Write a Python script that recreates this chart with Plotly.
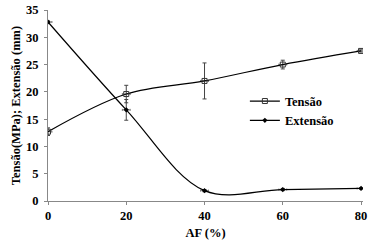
import plotly.graph_objects as go

af = [0, 20, 40, 60, 80]
tensao = [12.7, 19.6, 22.0, 25.0, 27.5]
tensao_err = [0.7, 1.6, 3.3, 0.8, 0.2]
extensao = [32.8, 16.7, 1.9, 2.1, 2.3]
extensao_err = [0.2, 1.9, 0.2, 0.2, 0.1]
x_err = [1, 1, 1, 1, 1]

FAM = "Liberation Serif"

def f(size):
    return dict(family=FAM, size=size, color="#000", weight="bold")

fig = go.Figure()
fig.add_trace(go.Scatter(
    x=af, y=tensao, name="Tensão", mode="lines+markers",
    line=dict(color="#000", width=1.2, shape="spline", smoothing=1),
    marker=dict(symbol="square-open", size=5, color="#333", line=dict(width=1)),
    error_y=dict(type="data", array=tensao_err, color="#444", thickness=1, width=2),
    error_x=dict(type="data", array=x_err, color="#777", thickness=1, width=1),
))
fig.add_trace(go.Scatter(
    x=af, y=extensao, name="Extensão", mode="lines+markers",
    line=dict(color="#000", width=1.2, shape="spline", smoothing=1),
    marker=dict(symbol="diamond", size=4, color="#000"),
    error_y=dict(type="data", array=extensao_err, color="#444", thickness=1, width=2),
    error_x=dict(type="data", array=x_err, color="#777", thickness=1, width=1),
))

fig.update_layout(
    width=375, height=248,
    margin=dict(l=48, r=12, t=10, b=47),
    paper_bgcolor="white", plot_bgcolor="white",
    font=f(12),
    showlegend=True,
    legend=dict(x=0.625, y=0.6, xanchor="left", yanchor="top",
                bgcolor="rgba(0,0,0,0)", font=f(12.5),
                itemwidth=30, tracegroupgap=0),
)
fig.update_xaxes(
    range=[0, 80.5], tickvals=[0, 20, 40, 60, 80], automargin=False,
    showgrid=False, zeroline=False, showline=True, linecolor="#888", linewidth=1,
    ticks="outside", ticklen=3, tickcolor="#888",
    tickfont=f(12.5), ticklabeloverflow="allow",
    title=dict(text="AF (%)", font=f(12.5), standoff=6),
)
fig.update_yaxes(
    range=[0, 35], dtick=5, automargin=False,
    showgrid=False, zeroline=False, showline=True, linecolor="#888", linewidth=1,
    ticks="outside", ticklen=3, tickcolor="#888",
    tickfont=f(12.5), ticklabelstandoff=3, ticklabeloverflow="allow",
    title=dict(text="Tensão(MPa); Extensão (mm)", font=f(12.5), standoff=2),
)
fig.write_html("out.html", config={"displayModeBar": False},
               post_script="document.body.style.margin='0';")
